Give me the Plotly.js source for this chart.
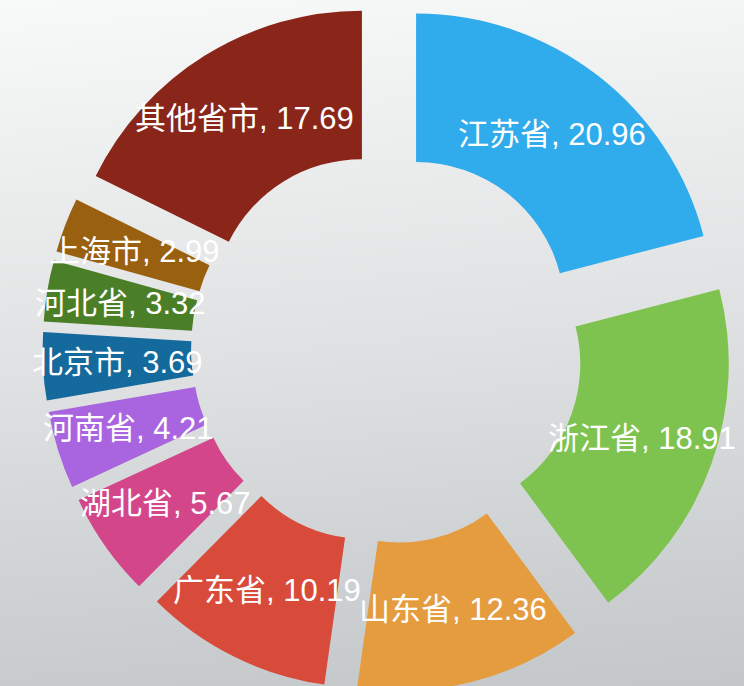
<!DOCTYPE html>
<html>
<head>
<meta charset="utf-8">
<script src="https://cdn.plot.ly/plotly-3.0.1.min.js"></script>
<style>
  html, body { margin: 0; padding: 0; width: 744px; height: 686px; overflow: hidden; }
  body { background: linear-gradient(175deg, #f8f9f9 0%, #dfe1e2 50%, #c3c7c9 100%); }
  #chart { position: absolute; left: 0; top: 0; width: 744px; height: 696px; }
</style>
</head>
<body>
<div id="chart"></div>
<script>
const labels = ['江苏省', '浙江省', '山东省', '广东省', '湖北省', '河南省', '北京市', '河北省', '上海市', '其他省市'];
const values = [20.96, 18.91, 12.36, 10.19, 5.67, 4.21, 3.69, 3.32, 2.99, 17.69];
const colors = ['#30abeb', '#7ec34f', '#e59c3e', '#d84a3a', '#d4468a', '#a964e0', '#146a9c', '#4a7f28', '#99600f', '#8a2519'];

const W = 744, H = 696;
const pull = 0.16, hole = 0.5;
const cxPx = 387, cyPx = 348, half = 344.5;
const domX = [(cxPx - half) / W, (cxPx + half) / W];
const domY = [(H - cyPx - half) / H, (H - cyPx + half) / H];
const R = half / (1 + pull);

const total = values.reduce((a, b) => a + b, 0);
const annotations = [];
let cum = 0;
values.forEach((v, i) => {
  const th = 2 * Math.PI * (cum + v / 2) / total;
  cum += v;
  const D = pull * R + R * (1 + hole) / 2;
  const x = cxPx + Math.sin(th) * D;
  const y = cyPx - Math.cos(th) * D;
  annotations.push({
    x: x / W, y: 1 - y / H, xref: 'paper', yref: 'paper',
    text: labels[i] + ', ' + v.toFixed(2),
    showarrow: false, xanchor: 'center', yanchor: 'middle',
    font: { family: 'Liberation Sans, Arial, "Noto Sans CJK SC", sans-serif', size: 31, color: '#ffffff' }
  });
});

const data = [{
  type: 'pie',
  labels: labels,
  values: values,
  sort: false,
  direction: 'clockwise',
  rotation: 0,
  hole: hole,
  pull: values.map(() => pull),
  marker: { colors: colors, line: { width: 0 } },
  textinfo: 'none',
  hoverinfo: 'label+value',
  domain: { x: domX, y: domY }
}];

const layout = {
  width: W, height: H,
  margin: { l: 0, r: 0, t: 0, b: 0 },
  paper_bgcolor: 'rgba(0,0,0,0)',
  plot_bgcolor: 'rgba(0,0,0,0)',
  showlegend: false,
  annotations: annotations
};

Plotly.newPlot('chart', data, layout, { displayModeBar: false, staticPlot: true });
</script>
</body>
</html>
